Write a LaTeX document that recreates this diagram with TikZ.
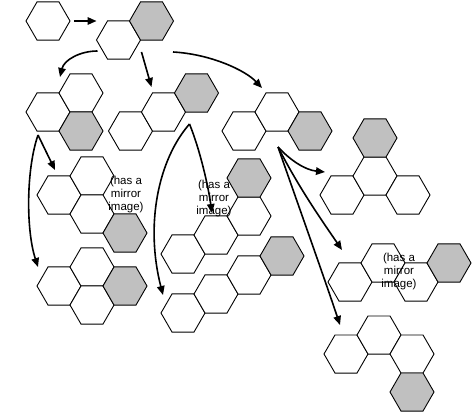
\documentclass[tikz,border=0pt]{standalone}
\usepackage{fontspec}
\setmainfont{Liberation Sans}
\usetikzlibrary{shapes.geometric, arrows.meta, calc}
\definecolor{cellgray}{RGB}{192,192,192}

\begin{document}
\begin{tikzpicture}[
        x=1pt, y=-1pt,
        hexcell/.style={regular polygon, regular polygon sides=6, minimum size=44pt, inner sep=0pt, outer sep=0pt, draw, line width=0.9pt, fill=white},
        graycell/.style={hexcell, fill=cellgray},
        mirrornote/.style={align=center, font=\fontsize{11.5}{13}\selectfont, inner sep=0pt},
        arrow/.style={-{Triangle[length=9pt, width=7.5pt]}, line width=1.6pt}
    ]
    \useasboundingbox (0,0) rectangle (473,414);

    % row 1
    \node[hexcell] (a1) at (48,21) {};
    \node[hexcell] (b1) at (118.5,40) {};
    \node[graycell] (b2) at ($(b1)+(33,-19)$) {};

    % row 2
    \node[hexcell] (c1) at (48,112) {};
    \node[hexcell] (c2) at ($(c1)+(33,-19)$) {};
    \node[graycell] (c3) at ($(c2)+(0,38)$) {};

    \node[hexcell] (d1) at (130.5,131) {};
    \node[hexcell] (d2) at ($(d1)+(33,-19)$) {};
    \node[graycell] (d3) at ($(d2)+(33,-19)$) {};

    \node[hexcell] (e1) at (244,131) {};
    \node[hexcell] (e2) at ($(e1)+(33,-19)$) {};
    \node[graycell] (e3) at ($(e2)+(33,19)$) {};

    % row 3
    \node[hexcell] (f1) at (59,195) {};
    \node[hexcell] (f2) at ($(f1)+(33,-19)$) {};
    \node[hexcell] (f3) at ($(f1)+(33,19)$) {};
    \node[graycell] (f4) at ($(f3)+(33,19)$) {};

    \node[hexcell] (g4) at (183,254) {};
    \node[hexcell] (g3) at ($(g4)+(33,-19)$) {};
    \node[hexcell] (g2) at ($(g3)+(33,-19)$) {};
    \node[graycell] (g1) at ($(g2)+(0,-38)$) {};

    \node[hexcell] (h3) at (342,195) {};
    \node[hexcell] (h2) at ($(h3)+(33,-19)$) {};
    \node[hexcell] (h4) at ($(h2)+(33,19)$) {};
    \node[graycell] (h1) at ($(h2)+(0,-38)$) {};

    % row 4
    \node[hexcell] (i1) at (59,286) {};
    \node[hexcell] (i2) at ($(i1)+(33,-19)$) {};
    \node[hexcell] (i3) at ($(i1)+(33,19)$) {};
    \node[graycell] (i4) at ($(i2)+(33,19)$) {};

    \node[hexcell] (j4) at (183,313) {};
    \node[hexcell] (j3) at ($(j4)+(33,-19)$) {};
    \node[hexcell] (j2) at ($(j3)+(33,-19)$) {};
    \node[graycell] (j1) at ($(j2)+(33,-19)$) {};

    \node[hexcell] (k1) at (350,282) {};
    \node[hexcell] (k2) at ($(k1)+(33,-19)$) {};
    \node[hexcell] (k3) at ($(k2)+(33,19)$) {};
    \node[graycell] (k4) at ($(k3)+(33,-19)$) {};

    % row 5
    \node[hexcell] (l1) at (346,354) {};
    \node[hexcell] (l2) at ($(l1)+(33,-19)$) {};
    \node[hexcell] (l3) at ($(l2)+(33,19)$) {};
    \node[graycell] (l4) at ($(l3)+(0,38)$) {};

    % notes
    \node[mirrornote] (fnote) at ($(f2)+(34,19)$) {(has a\\mirror\\image)};
    \node[mirrornote] (gnote) at ($(g3)+(-2,-36)$) {(has a\\mirror\\image)};
    \node[mirrornote] (knote) at ($(k2)+(16,9)$) {(has a\\mirror\\image)};

    % arrows
    \coordinate (cfork) at ($(c1)+(-10,23)$);
    \coordinate (dfork) at ($(d2)+(26,12)$);
    \coordinate (efork) at ($(e2)+(1,35)$);

    \draw[arrow] ($(a1)+(26,0)$) -- ($(b1)+(-22,-19)$);
    \draw[arrow] ($(b1)+(-21,11)$) .. controls (80,51) and (64,60) .. ($(c2)+(-21,-16)$);
    \draw[arrow] ($(b1)+(23,12)$) -- ($(d2)+(-12,-25)$);
    \draw[arrow] ($(b2)+(21.5,31)$) .. controls (210,54) and (245,70) .. ($(e2)+(-15,-24)$);

    \draw[arrow] (cfork) -- ($(f2)+(-37,-6)$);
    \draw[arrow] (cfork) .. controls (26,170) and (26,230) .. ($(i1)+(-21,-19)$);
    \draw[arrow] (dfork) .. controls (200,150) and (208,185) .. ($(g3)+(-4,-22)$);
    \draw[arrow] (dfork) .. controls (158,160) and (145,225) .. ($(j4)+(-20,-18)$);
    \draw[arrow] (efork) .. controls (290,160) and (305,170) .. ($(h3)+(-17,-23)$);
    \draw[arrow] (efork) .. controls (300,190) and (325,225) .. ($(k1)+(-8,-32)$);
    \draw[arrow] (efork) .. controls (300,210) and (325,280) .. ($(l1)+(-6,-29)$);
\end{tikzpicture}
\end{document}
